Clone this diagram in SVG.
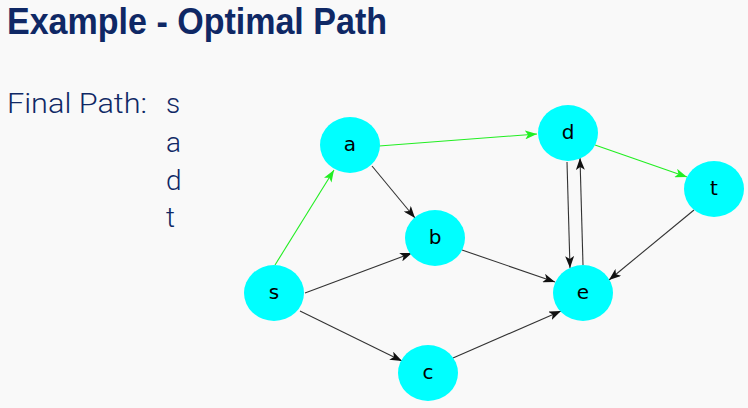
<svg xmlns="http://www.w3.org/2000/svg" width="748" height="408" viewBox="0 0 748 408">
<style>
.bg{fill:#f9f9f9}
.title{font-family:"Liberation Sans Narrow","Liberation Sans",sans-serif;font-weight:bold;font-size:37px;fill:#0f2865}
.txt{font-family:Roboto,"Liberation Sans",sans-serif;font-weight:300;font-size:28px;fill:#0f2865}
.node ellipse{fill:#00ffff}
.node text{font-family:"DejaVu Sans",sans-serif;font-size:20px;fill:#000;text-anchor:middle}
.e{stroke:#333;stroke-width:1.1;fill:none;marker-end:url(#ab)}
.g{stroke:#22ee22;stroke-width:1.1;fill:none;marker-end:url(#ag)}
</style>
<defs>
<marker id="ab" markerUnits="userSpaceOnUse" viewBox="0 0 12 9" markerWidth="12" markerHeight="9" refX="12" refY="4.5" orient="auto">
<path d="M0,0 L12,4.5 L0,9 L3,4.5 z" fill="#111"/>
</marker>
<marker id="ag" markerUnits="userSpaceOnUse" viewBox="0 0 12 9" markerWidth="12" markerHeight="9" refX="12" refY="4.5" orient="auto">
<path d="M0,0 L12,4.5 L0,9 L3,4.5 z" fill="#22ee22"/>
</marker>
</defs>
<rect class="bg" x="0" y="0" width="748" height="408"/>
<text class="title" x="7" y="34" textLength="380" lengthAdjust="spacingAndGlyphs">Example - Optimal Path</text>
<text class="txt" x="7" y="113" textLength="140" lengthAdjust="spacingAndGlyphs">Final Path:</text>
<text class="txt" x="166" y="113">s</text>
<text class="txt" x="166" y="152">a</text>
<text class="txt" x="166" y="190">d</text>
<text class="txt" x="166" y="227">t</text>
<g id="edges">
<line class="g" x1="275" y1="265" x2="334" y2="170"/>
<line class="g" x1="379" y1="146" x2="537" y2="134"/>
<line class="g" x1="595" y1="145" x2="687" y2="177"/>
<line class="e" x1="372" y1="166" x2="415" y2="218"/>
<line class="e" x1="305" y1="293" x2="412" y2="253"/>
<line class="e" x1="462" y1="250" x2="555" y2="282"/>
<line class="e" x1="300" y1="311" x2="402" y2="361"/>
<line class="e" x1="453" y1="358" x2="561" y2="311"/>
<line class="e" x1="567" y1="162" x2="570" y2="268"/>
<line class="e" x1="583" y1="265" x2="580" y2="158"/>
<line class="e" x1="694" y1="210" x2="609" y2="280"/>
</g>
<g id="node-a" class="node"><ellipse cx="350" cy="145" rx="30" ry="28"/><text x="350" y="151">a</text></g>
<g id="node-b" class="node"><ellipse cx="435" cy="238" rx="30" ry="28"/><text x="435" y="244">b</text></g>
<g id="node-s" class="node"><ellipse cx="274" cy="293" rx="30" ry="28"/><text x="274" y="299">s</text></g>
<g id="node-c" class="node"><ellipse cx="428" cy="373" rx="30" ry="28"/><text x="428" y="379">c</text></g>
<g id="node-d" class="node"><ellipse cx="568" cy="133" rx="30" ry="28"/><text x="568" y="139">d</text></g>
<g id="node-t" class="node"><ellipse cx="714" cy="189" rx="30" ry="28"/><text x="714" y="195">t</text></g>
<g id="node-e" class="node"><ellipse cx="583" cy="293" rx="30" ry="28"/><text x="583" y="299">e</text></g>
</svg>
